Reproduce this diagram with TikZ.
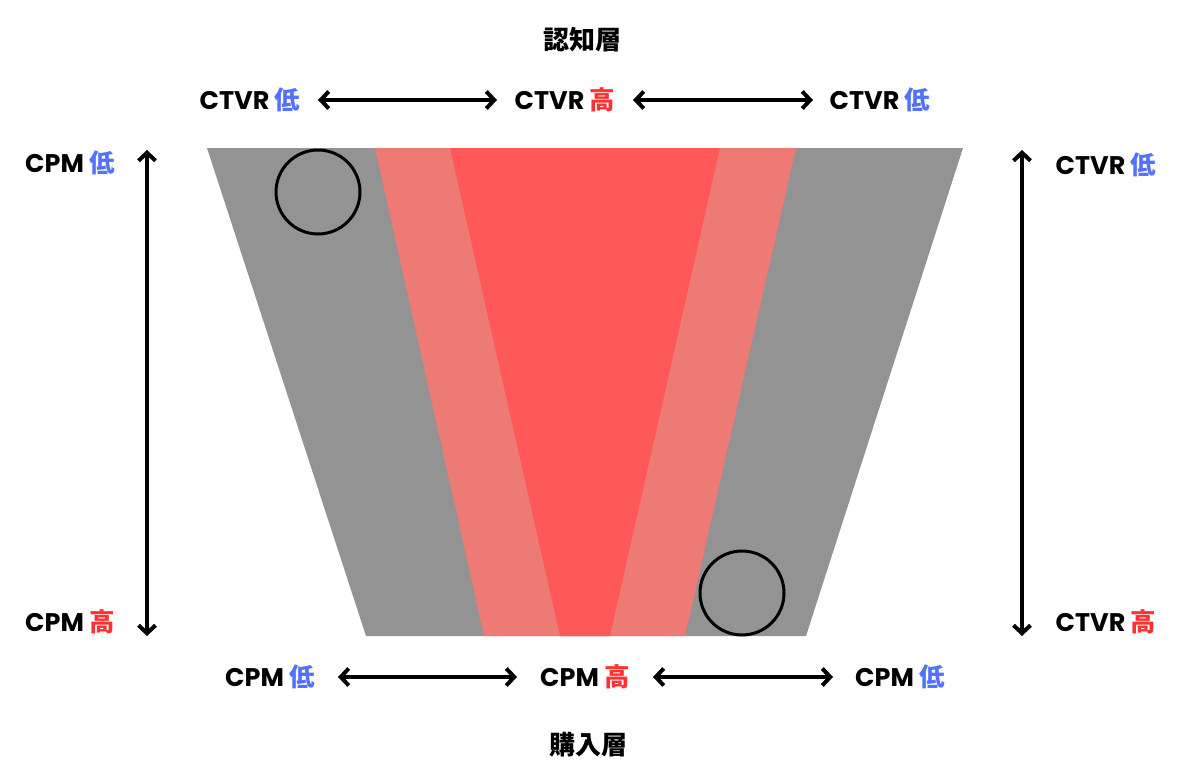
\documentclass[tikz,border=0pt]{standalone}
\usepackage{fontspec}
\setmainfont{Poppins}
\newfontfamily\cjk{Noto Sans CJK JP}
\usetikzlibrary{arrows.meta}
\definecolor{fgray}{HTML}{939393}
\definecolor{lred}{HTML}{EE7A76}
\definecolor{dred}{HTML}{FF5858}
\definecolor{lowc}{HTML}{5271FF}
\definecolor{highc}{HTML}{FF3131}
\newcommand{\lowk}{\textcolor{lowc}{\cjk\bfseries 低}}
\newcommand{\highk}{\textcolor{highc}{\cjk\bfseries 高}}
\begin{document}
\begin{tikzpicture}[x=1pt,y=-1pt,
  lbl/.style={font=\fontsize{25.5}{28}\selectfont\bfseries, inner sep=0pt, anchor=center},
  ttl/.style={font=\fontsize{26}{29}\selectfont\cjk\bfseries, inner sep=0pt},
  dbl/.style={line width=4.8pt, {Straight Barb[length=8pt,width=17pt,line width=4pt]}-{Straight Barb[length=8pt,width=17pt,line width=4pt]}},
  ring/.style={draw=black, line width=3pt}]
\useasboundingbox (0,0) rectangle (1200,782);
% funnel
\fill[fgray] (207,148) -- (963,148) -- (806,636) -- (366,636) -- cycle;
\fill[lred] (375,148) -- (796,148) -- (685,636) -- (484,636) -- cycle;
\fill[dred] (450,148) -- (720,148) -- (610,636) -- (560,636) -- cycle;
\draw[ring] (318,192) circle (42);
\draw[ring] (742,593) circle (42);
% titles
\node[ttl] (top) at (582,40) {認知層};
\node[ttl] (bot) at (588,745) {購入層};
% top row
\node[lbl] (t1) at (250,100) {CTVR \lowk};
\node[lbl] (t2) at (565,100) {CTVR \highk};
\node[lbl] (t3) at (880,100) {CTVR \lowk};
\coordinate (ta1) at (318,100); \coordinate (ta2) at (497,100);
\coordinate (ta3) at (633,100); \coordinate (ta4) at (813,100);
\draw[dbl] (ta1) -- (ta2);
\draw[dbl] (ta3) -- (ta4);
% bottom row
\node[lbl] (b1) at (270,677) {CPM \lowk};
\node[lbl] (b2) at (585,677) {CPM \highk};
\node[lbl] (b3) at (900,677) {CPM \lowk};
\coordinate (ba1) at (338,677); \coordinate (ba2) at (517,677);
\coordinate (ba3) at (653,677); \coordinate (ba4) at (833,677);
\draw[dbl] (ba1) -- (ba2);
\draw[dbl] (ba3) -- (ba4);
% left axis
\node[lbl] (l1) at (70,163) {CPM \lowk};
\node[lbl] (l2) at (70,622) {CPM \highk};
\coordinate (la) at (147,150);
\coordinate (lb) at (147,636);
\draw[dbl] (la) -- (lb);
% right axis
\node[lbl] (r1) at (1106,165) {CTVR \lowk};
\node[lbl] (r2) at (1106,622) {CTVR \highk};
\coordinate (ra) at (1022,150);
\coordinate (rb) at (1022,636);
\draw[dbl] (ra) -- (rb);
\end{tikzpicture}
\end{document}
